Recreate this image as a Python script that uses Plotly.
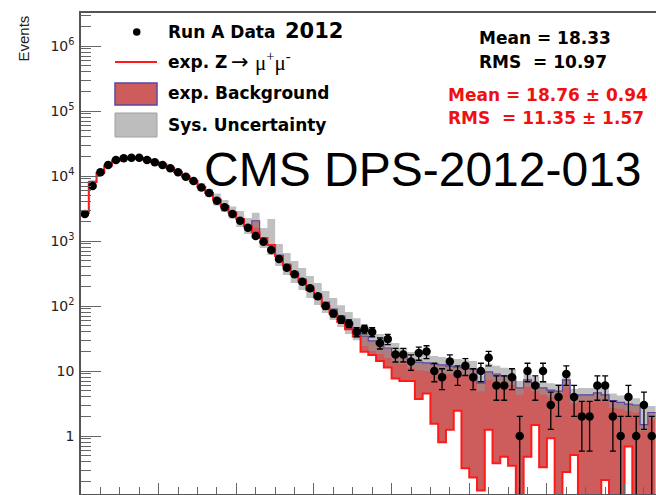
import numpy as np
import plotly.graph_objects as go

# ---------------- data ----------------
n_bins = 74  # bins of unit width, x axis in bin units (labels cropped in the original)

data_counts = [2600, 7020, 11400, 14750, 17600, 18700, 19100, 19100, 17600, 16250,
               14750, 13130, 11400, 9750, 8370, 6650, 5470, 4170, 3300, 2600,
               2050, 1600, 1190, 977, 725, 527, 388, 307, 237, 187,
               141, 100, 77, 62, 54, 40, 44, 40, 27, 31,
               18, 18, 14, 19, 20, 10, 8, 14, 9, 12,
               8, 10, 16, 6, 6, 8, 1, 10, 6, 10,
               3, 4, 9, 4, 2, 2, 6, 6, 2, 1,
               4, 1, 3, 1]

exp_total = [2700, 8090, 11100, 14500, 17300, 18600, 19100, 18900, 17950, 16400,
             15000, 13300, 11500, 9820, 8370, 6760, 5470, 4350, 3450, 2740,
             2180, 1700, 2050, 1110, 868, 609, 443, 334, 260, 196,
             153, 115, 90, 70, 55, 44, 34.5, 29, 26, 22.6,
             18.9, 17, 14.8, 13.7, 13.3, 12.8, 12.4, 11.9, 11.5, 11.1,
             10.7, 6.5, 9.7, 9.0, 8.4, 8.1, 5.5, 7.3, 6.3, 5.5,
             5.1, 4.9, 7.3, 4.1, 4.3, 4.3, 4.6, 4.3, 3.5, 3.3,
             3.1, 3.0, 1.5, 2.3]

exp_zmumu = [2700, 8090, 11100, 14500, 17300, 18600, 19100, 18900, 17950, 16400,
             15000, 13300, 11500, 9820, 8370, 6760, 5470, 4350, 3450, 2740,
             2180, 1700, 1350, 1110, 868, 590, 421, 311, 239, 176,
             135, 99, 76, 57, 44, 34, 19.8, 17.6, 14.3, 11.3,
             7.7, 7.0, 7.0, 3.7, 4.5, 1.55, 0.8, 1.25, 2.45, 0.32,
             0.23, 0.145, 1.25, 0.38, 0.48, 0.35, 0, 0.48, 1.48, 0.33,
             0.92, 0, 0.28, 0.51, 0, 0, 0, 0.21, 0, 0,
             0.69, 0, 0, 0]

sys_upper = [2900, 8680, 11900, 15560, 18560, 19960, 20490, 20280, 19260, 17600,
             16100, 14270, 12340, 10540, 9210, 7790, 6300, 5380, 4270, 3390,
             2895, 2260, 2730, 1580, 2180, 900, 654, 493, 384, 290,
             226, 170, 133, 103, 81, 65, 49.2, 41.3, 37.1, 32.2,
             26.9, 22.6, 19.7, 18.2, 17.7, 17.0, 16.5, 15.8, 15.3, 14.7,
             14.2, 8.6, 12.9, 12.0, 11.2, 10.8, 7.0, 9.4, 8.1, 7.0,
             6.5, 6.3, 9.4, 5.3, 5.5, 5.5, 5.9, 5.5, 4.5, 4.2,
             4.0, 3.8, 2.8, 2.9]

sys_lower = [2520, 7540, 10350, 13510, 16120, 17330, 17800, 17610, 16730, 15280,
             13980, 12400, 10720, 9150, 7610, 5870, 4750, 3520, 2790, 2215,
             1640, 1280, 1615, 780, 610, 412, 300, 226, 176, 133,
             104, 78, 61, 47.4, 37.2, 29.8, 24.2, 20.4, 18.2, 15.9,
             13.3, 12.8, 11.1, 10.3, 10.0, 9.6, 9.3, 9.0, 8.7, 8.4,
             8.1, 4.9, 7.3, 6.8, 6.3, 6.1, 4.3, 5.7, 4.9, 4.3,
             4.0, 3.8, 5.7, 3.2, 3.4, 3.4, 3.6, 3.4, 2.7, 2.6,
             2.4, 2.3, 1.2, 1.8]

y_tick_vals = [1, 10, 100, 1000, 10000, 100000, 1000000]
y_tick_text = ["1", "10", "10<sup>2</sup>", "10<sup>3</sup>", "10<sup>4</sup>",
               "10<sup>5</sup>", "10<sup>6</sup>"]

# ---------------- helpers ----------------
edges = np.arange(n_bins + 1, dtype=float)
centers = edges[:-1] + 0.5


def step(vals, floor=1e-3):
    v = np.asarray(vals, dtype=float)
    v = np.where(v > 0, v, floor)
    return list(v) + [v[-1]]


W, H = 656, 495
ML, MR, MT, MB = 81, 0, 13, 1
PW, PH = W - ML - MR, H - MT - MB


def px(x):
    return (x - ML) / PW


def py(y):
    return (H - MB - y) / PH


RED_FILL = "#cd5c5c"
OUTLINE = "rgb(90,70,160)"
BAND = "rgba(150,150,150,0.6)"
ZRED = "#ff1a1a"

fig = go.Figure()

# background (between Z and total)
fig.add_trace(go.Scatter(x=edges, y=step(exp_zmumu), mode="lines", line_shape="hv",
                         line=dict(width=0, color=ZRED), hoverinfo="skip"))
fig.add_trace(go.Scatter(x=edges, y=step(exp_total), mode="lines", line_shape="hv",
                         line=dict(width=0), fill="tonexty", fillcolor=RED_FILL,
                         hoverinfo="skip"))
# systematic band
fig.add_trace(go.Scatter(x=edges, y=step(sys_lower), mode="lines", line_shape="hv",
                         line=dict(width=0), hoverinfo="skip"))
fig.add_trace(go.Scatter(x=edges, y=step(sys_upper), mode="lines", line_shape="hv",
                         line=dict(width=0), fill="tonexty", fillcolor=BAND,
                         hoverinfo="skip"))
# outlines
fig.add_trace(go.Scatter(x=edges, y=step(exp_total), mode="lines", line_shape="hv",
                         line=dict(width=1.2, color=OUTLINE), hoverinfo="skip"))
fig.add_trace(go.Scatter(x=edges, y=step(exp_zmumu), mode="lines", line_shape="hv",
                         line=dict(width=2, color=ZRED), hoverinfo="skip"))

# data
d = np.asarray(data_counts, dtype=float)
err = np.sqrt(d)
err_lo = np.minimum(err, d * 0.999)
fig.add_trace(go.Scatter(x=centers, y=d, mode="markers",
                         marker=dict(color="black", size=8.5),
                         error_y=dict(type="data", array=err, arrayminus=err_lo,
                                      color="black", thickness=1.3, width=3)))

axis_col = "#555555"
fig.update_xaxes(range=[0, PW / 7.765], showgrid=False, zeroline=False,
                 showline=True, linecolor=axis_col, linewidth=1.5, mirror=True,
                 ticks="inside", ticklen=11, tickwidth=1, tickcolor="#666666",
                 tick0=0, dtick=10, showticklabels=False,
                 minor=dict(ticks="inside", ticklen=7, tick0=0, dtick=2.5,
                            tickcolor="#666666", showgrid=False))

minor_vals = [m * 10 ** e for e in range(-1, 7) for m in range(2, 10)]
fig.update_yaxes(type="log", range=[-0.892, 6.508], showgrid=False, zeroline=False,
                 showline=True, linecolor=axis_col, linewidth=1.5, mirror=False,
                 ticks="inside", ticklen=20, tickwidth=1, tickcolor="#666666",
                 tickmode="array", tickvals=y_tick_vals, ticktext=y_tick_text,
                 tickfont=dict(family="DejaVu Sans", size=14, color="#222222"),
                 ticklabelstandoff=2,
                 minor=dict(ticks="inside", ticklen=10, tickmode="array",
                            tickvals=minor_vals, tickcolor="#666666", showgrid=False))

annotations = []


def txt(x, y, s, size=17, color="black", family="DejaVu Sans", anchor="left",
        bold=True, angle=0, yanchor="middle"):
    annotations.append(dict(xref="paper", yref="paper", x=px(x), y=py(y),
                            text=(f"<b>{s}</b>" if bold else s), showarrow=False,
                            xanchor=anchor, yanchor=yanchor, textangle=angle,
                            font=dict(family=family, size=size, color=color)))


# legend
txt(166, 32, "Run A Data")
txt(283, 31, "2012", size=21)
txt(166, 62, "exp. Z")
txt(229, 62, "→", size=21, family="DejaVu Sans", bold=False)
txt(253, 62, "μ<sup>+</sup>μ<sup>-</sup>", size=21, family="Liberation Serif", bold=False)
txt(166, 93, "exp. Background")
txt(166, 125, "Sys. Uncertainty")

# stats
txt(477, 38, "Mean = 18.33")
txt(477, 62, "RMS\u00a0\u00a0= 10.97")
txt(446, 95, "Mean = 18.76 \u00b1 0.94", color="#ee1111")
txt(446, 118, "RMS\u00a0\u00a0= 11.35 \u00b1 1.57", color="#ee1111")

# big label
txt(202, 170, "CMS DPS-2012-013", size=48, family="Liberation Sans", bold=False)

# y title (rotated)
annotations.append(dict(xref="paper", yref="paper", x=px(33), y=py(13),
                        text="Events", showarrow=False, textangle=-90,
                        xanchor="right", yanchor="top",
                        font=dict(family="Liberation Sans", size=15, color="#222222")))

shapes = [
    dict(type="circle", xref="paper", yref="paper", x0=px(133), x1=px(140.5),
         y0=py(35.8), y1=py(28.3), fillcolor="black", line=dict(width=0)),
    dict(type="line", xref="paper", yref="paper", x0=px(115), x1=px(157),
         y0=py(62), y1=py(62), line=dict(color=ZRED, width=2)),
    dict(type="rect", xref="paper", yref="paper", x0=px(115), x1=px(157),
         y0=py(105), y1=py(83), fillcolor=RED_FILL, line=dict(color=OUTLINE, width=1.5)),
    dict(type="rect", xref="paper", yref="paper", x0=px(115), x1=px(157),
         y0=py(137), y1=py(113), fillcolor="#bdbdbd", line=dict(color="#a0a0a0", width=1)),
]

fig.update_layout(width=W, height=H, margin=dict(l=ML, r=MR, t=MT, b=MB),
                  plot_bgcolor="white", paper_bgcolor="white", showlegend=False,
                  annotations=annotations, shapes=shapes)

fig.write_html("out.html")
